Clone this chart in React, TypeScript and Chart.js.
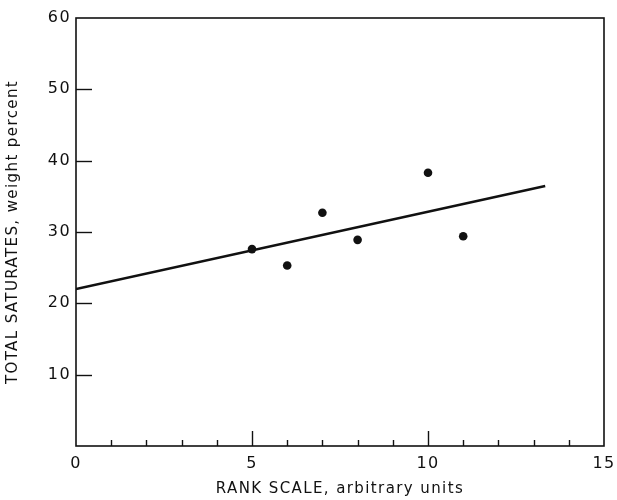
import React, { useEffect, useRef } from "react";
import { Chart, registerables } from "chart.js";

Chart.register(...registerables);

// Data
const rankValues = [5, 6, 7, 8, 10, 11];
const saturatesValues = [27.6, 25.3, 32.7, 28.9, 38.3, 29.4];
const fitX = [0, 13.33];
const fitY = [22.0, 36.45];
const xLabelValues = [0, 5, 10, 15];
const yLabelValues = [10, 20, 30, 40, 50, 60];

const FONT = "'DejaVu Sans', sans-serif";

const spacingPlugin = {
  id: "letterSpacing",
  beforeDraw(chart: any) {
    try {
      chart.ctx.letterSpacing = "1.4px";
    } catch (e) {}
  },
};

const framePlugin = {
  id: "frameTicks",
  afterDraw(chart: any) {
    const { ctx, chartArea, scales } = chart;
    const { left, right, top, bottom } = chartArea;
    const xs = scales.x;
    const ys = scales.y;
    ctx.save();
    ctx.strokeStyle = "#111";
    ctx.lineWidth = 1.6;
    ctx.lineCap = "butt";
    ctx.strokeRect(left, top, right - left, bottom - top);
    ctx.lineWidth = 1.4;
    ys.ticks.forEach((t: any) => {
      const v = t.value;
      if (v <= ys.min || v >= ys.max) return;
      const py = Math.round(ys.getPixelForValue(v)) + 0.5;
      ctx.beginPath();
      ctx.moveTo(left, py);
      ctx.lineTo(left + 16, py);
      ctx.stroke();
    });
    xs.ticks.forEach((t: any) => {
      const v = t.value;
      if (v <= xs.min || v >= xs.max) return;
      const px = Math.round(xs.getPixelForValue(v)) + 0.5;
      const len = v % 5 === 0 ? 15 : 6;
      ctx.beginPath();
      ctx.moveTo(px, bottom);
      ctx.lineTo(px, bottom - len);
      ctx.stroke();
    });
    ctx.restore();
  },
};

export default function App() {
  const ref = useRef<HTMLCanvasElement | null>(null);

  useEffect(() => {
    if (!ref.current) return;
    const chart = new Chart(ref.current, {
      type: "scatter",
      data: {
        datasets: [
          {
            data: rankValues.map((x, i) => ({ x, y: saturatesValues[i] })),
            pointRadius: 4.3,
            pointBackgroundColor: "#111",
            pointBorderWidth: 0,
            showLine: false,
          },
          {
            data: fitX.map((x, i) => ({ x, y: fitY[i] })),
            showLine: true,
            pointRadius: 0,
            borderColor: "#111",
            borderWidth: 2.6,
            fill: false,
          },
        ],
      },
      options: {
        responsive: false,
        animation: false,
        layout: { padding: { top: 18, right: 13, left: 0, bottom: 0 } },
        plugins: {
          legend: { display: false },
          tooltip: { enabled: false },
        },
        scales: {
          x: {
            type: "linear",
            min: 0,
            max: 15,
            grid: { display: false, drawTicks: false },
            border: { display: false },
            ticks: {
              stepSize: 1,
              autoSkip: false,
              maxRotation: 0,
              padding: 8,
              color: "#111",
              font: { family: FONT, size: 16 },
              callback: (v: any) => (xLabelValues.includes(Number(v)) ? String(v) : ""),
            },
            title: {
              display: true,
              text: "RANK SCALE, arbitrary units",
              color: "#111",
              font: { family: FONT, size: 15 },
              padding: { top: 0, bottom: 2 },
            },
            afterFit: (s: any) => {
              s.height = 54;
              s.paddingLeft = 0;
              s.paddingRight = 0;
            },
          },
          y: {
            type: "linear",
            min: 0,
            max: 60,
            grid: { display: false, drawTicks: false },
            border: { display: false },
            ticks: {
              stepSize: 10,
              padding: 5,
              color: "#111",
              font: { family: FONT, size: 16 },
              callback: (v: any) => (yLabelValues.includes(Number(v)) ? String(v) : ""),
            },
            title: {
              display: true,
              text: "TOTAL SATURATES, weight percent",
              color: "#111",
              font: { family: FONT, size: 15 },
              padding: { top: 4, bottom: 0 },
            },
            afterFit: (s: any) => {
              s.width = 76;
              s.paddingTop = 0;
              s.paddingBottom = 0;
            },
          },
        },
      },
      plugins: [spacingPlugin, framePlugin],
    });
    return () => chart.destroy();
  }, []);

  return (
    <div style={{ position: "absolute", left: 0, top: 0, width: 617, height: 500, background: "#fff" }}>
      <canvas ref={ref} width={617} height={500} />
    </div>
  );
}
